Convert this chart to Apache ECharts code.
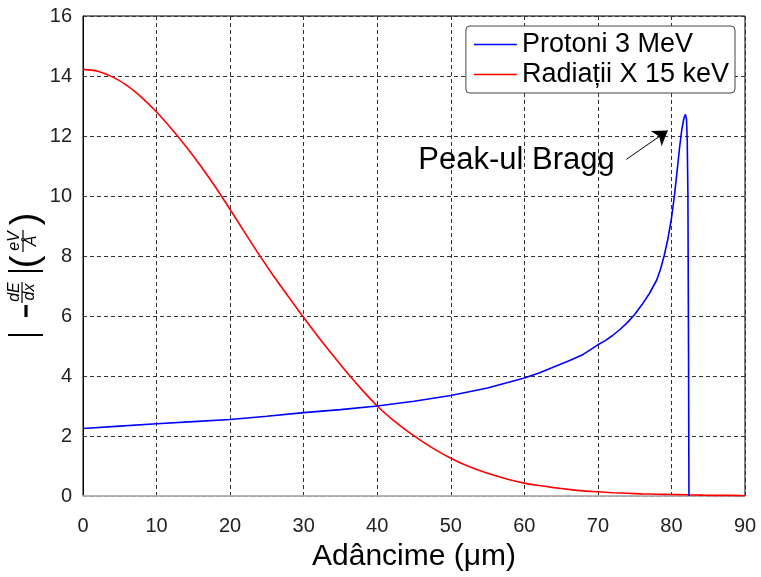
<!DOCTYPE html>
<html>
<head>
<meta charset="utf-8">
<script src="https://cdn.jsdelivr.net/npm/echarts@6/dist/echarts.min.js"></script>
<style>
  html, body { margin: 0; padding: 0; background: #fff; }
  #chart { width: 761px; height: 577px; }
</style>
</head>
<body>
<div id="chart"></div>
<script>
// Protoni 3 MeV
const protonX = [0, 5, 10, 15, 20, 25, 30, 35, 40, 45, 50, 55, 60, 62, 64, 66, 68, 70, 71, 72, 73, 74, 75, 76, 77, 78, 78.5, 79,
  79.5, 80, 80.4, 80.8, 81.1, 81.4, 81.7, 81.9, 82.05, 82.15, 82.24, 82.32, 82.38];
const protonY = [2.25, 2.33, 2.41, 2.48, 2.55, 2.66, 2.78, 2.88, 3.0, 3.16, 3.35, 3.6, 3.93, 4.1, 4.3, 4.5, 4.72, 5.04, 5.18, 5.35, 5.55, 5.78, 6.05, 6.38, 6.75, 7.2, 7.55, 8.0,
  8.55, 9.25, 10.0, 10.9, 11.6, 12.2, 12.6, 12.72, 12.55, 11.8, 10.0, 5.0, 0];
// Radiatii X 15 keV
const xrayX = [0, 2, 4, 6, 8, 10, 12, 14, 16, 18, 20, 22, 24, 26, 28, 30, 32, 34, 36, 38, 40, 42, 44, 46, 48, 50,
  52, 54, 56, 58, 60, 62, 64, 66, 68, 70, 72, 74, 76, 78, 80, 82, 84, 86, 88, 90];
const xrayY = [14.22, 14.16, 13.97, 13.68, 13.28, 12.8, 12.25, 11.65, 11.0, 10.3, 9.55, 8.78, 8.02, 7.3, 6.62, 5.95, 5.3, 4.68, 4.08, 3.52, 3.0, 2.56, 2.18, 1.84, 1.53, 1.26,
  1.03, 0.84, 0.68, 0.54, 0.43, 0.35, 0.28, 0.22, 0.17, 0.14, 0.11, 0.09, 0.07, 0.06, 0.05, 0.04, 0.03, 0.02, 0.02, 0.01];

const seriesNames = ['Protoni 3 MeV', 'Radiații X 15 keV'];
const xTicks = [0, 90, 10];   // min, max, step
const yTicks = [0, 16, 2];
const peakLabel = 'Peak-ul Bragg';
const peakLabelAt = [72.3, 11.2];
const peakArrow = [[73.87, 11.22], [79.5, 12.18]];

const FONT = 'Liberation Sans, Arial, sans-serif';

const chart = echarts.init(document.getElementById('chart'));

const zip = (xs, ys) => xs.map((x, i) => [x, ys[i]]);
const grid = { color: '#333', type: [4, 3], width: 1 };

// y axis title |-dE/dx| (eV/Å), screen-placed pieces, text turned to read upwards
const R = Math.PI / 2;
const txt = (x, y, t, font) => ({
  type: 'text', x: x, y: y, rotation: R,
  style: { text: t, font: font, fill: '#000', align: 'center', verticalAlign: 'middle' }
});
const seg = (x1, y1, x2, y2, w) => ({
  type: 'line', shape: { x1: x1, y1: y1, x2: x2, y2: y2 }, style: { stroke: '#000', lineWidth: w }
});
const small = 'italic 16px ' + FONT;
const yTitle = [
  seg(8, 335, 43, 335, 2.2),               // |
  seg(26, 305, 26, 317, 3.2),              // -
  txt(15, 292, 'dE', small),
  seg(22, 282, 22, 303, 1.2),
  txt(30, 292, 'dx', small),
  seg(8, 271, 43, 271, 2.2),               // |
  txt(27, 262, '(', '38px ' + FONT),
  txt(15, 241, 'eV', small),
  seg(23, 230, 23, 252, 1.2),
  txt(32, 241, 'Å', small),
  txt(27, 219, ')', '38px ' + FONT)
];

const option = {
  animation: false,
  backgroundColor: '#fff',
  textStyle: { fontFamily: FONT },
  grid: {
    left: 83, right: 16, top: 16, bottom: 69,
    show: true, borderColor: '#000', borderWidth: 1
  },
  legend: {
    data: seriesNames,
    orient: 'vertical',
    right: 26,
    top: 26,
    icon: 'rect',
    itemWidth: 43,
    itemHeight: 1.6,
    itemGap: 3,
    padding: [5, 6, 5, 8],
    borderColor: '#444',
    borderWidth: 1,
    borderRadius: 4,
    backgroundColor: '#fff',
    textStyle: { fontSize: 27, color: '#000', fontFamily: FONT }
  },
  xAxis: {
    type: 'value',
    min: xTicks[0], max: xTicks[1], interval: xTicks[2],
    name: 'Adâncime (μm)',
    nameLocation: 'middle',
    nameGap: 46,
    nameTextStyle: { fontSize: 30, color: '#000', fontFamily: FONT },
    axisLine: { lineStyle: { color: '#c8c8c8', width: 1.5 } },
    axisTick: { show: false },
    axisLabel: { fontSize: 20, color: '#222', margin: 20, fontFamily: FONT },
    splitLine: { show: true, lineStyle: grid }
  },
  yAxis: {
    type: 'value',
    min: yTicks[0], max: yTicks[1], interval: yTicks[2],
    axisLine: { show: true, lineStyle: { color: '#000', width: 1 } },
    axisTick: { show: false },
    axisLabel: { fontSize: 20, color: '#222', margin: 11, fontFamily: FONT },
    splitLine: { show: true, lineStyle: grid }
  },
  graphic: yTitle,
  series: [
    {
      name: seriesNames[0],
      type: 'line',
      data: zip(protonX, protonY),
      symbol: 'none',
      lineStyle: { color: '#0000ff', width: 1.6 },
      itemStyle: { color: '#0000ff' },
      z: 3,
      markLine: {
        silent: true,
        symbol: ['none', 'arrow'],
        symbolSize: 14,
        label: { show: false },
        lineStyle: { color: '#000', width: 1, type: 'solid' },
        data: [[{ coord: peakArrow[0] }, { coord: peakArrow[1] }]]
      },
      markPoint: {
        silent: true,
        symbol: 'circle',
        symbolSize: 0,
        label: {
          show: true, position: 'left', distance: 0,
          formatter: peakLabel, fontSize: 31, color: '#000', fontFamily: FONT
        },
        data: [{ coord: peakLabelAt }]
      }
    },
    {
      name: seriesNames[1],
      type: 'line',
      data: zip(xrayX, xrayY),
      symbol: 'none',
      smooth: 0.3,
      lineStyle: { color: '#ff0000', width: 1.6 },
      itemStyle: { color: '#ff0000' },
      z: 2
    }
  ]
};
chart.setOption(option);
</script>
</body>
</html>
